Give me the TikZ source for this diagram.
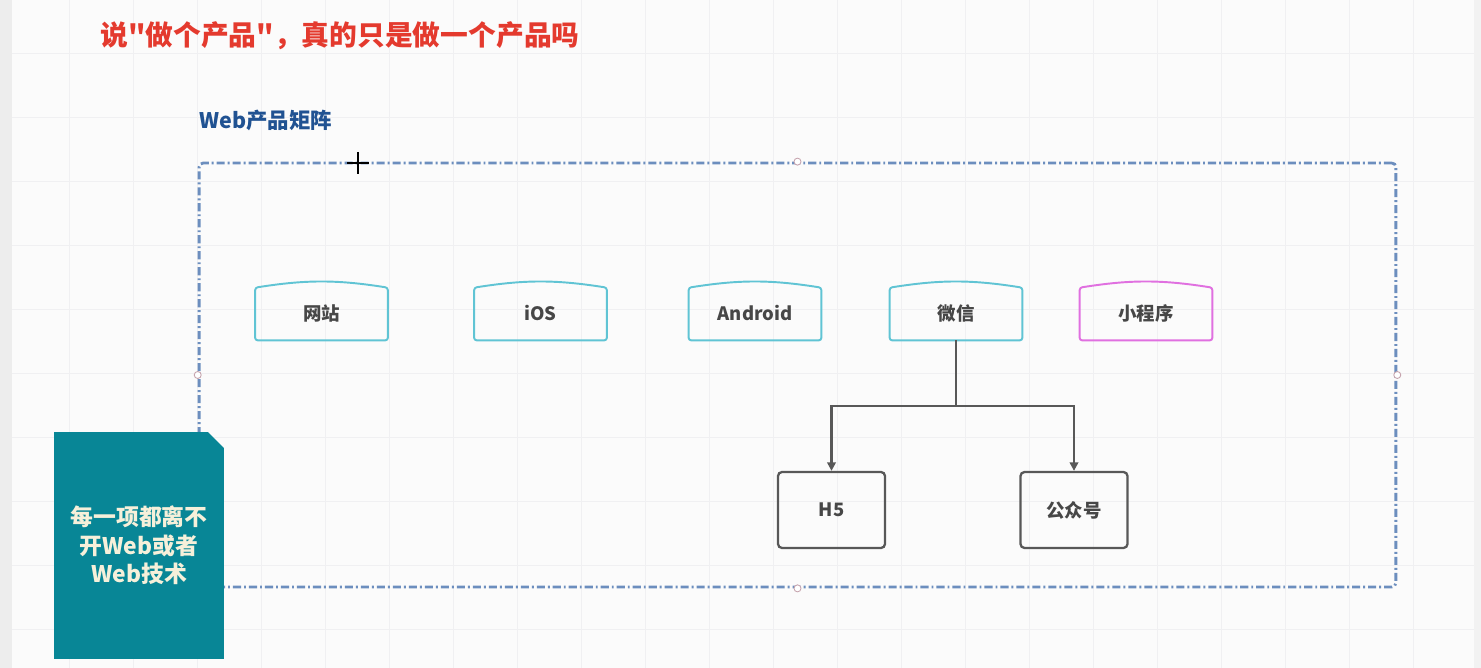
\documentclass[tikz,border=0pt]{standalone}
\usepackage{fontspec}
\newfontfamily\cjk{Noto Sans CJK SC}
\usetikzlibrary{positioning, arrows.meta, calc, shapes.misc}
\definecolor{bgcol}{RGB}{251,251,251}
\definecolor{gridcol}{RGB}{240,240,242}
\definecolor{titlecol}{RGB}{228,58,46}
\definecolor{headcol}{RGB}{32,82,146}
\definecolor{framecol}{RGB}{108,142,190}
\definecolor{platcol}{RGB}{96,196,212}
\definecolor{minicol}{RGB}{224,112,224}
\definecolor{subcol}{RGB}{88,88,88}
\definecolor{notecol}{RGB}{8,134,150}
\definecolor{notetext}{RGB}{246,240,218}
\definecolor{handlecol}{RGB}{198,164,174}
\tikzset{
  platform/.style={rectangle, minimum width=26.4mm, minimum height=10.4mm,
                   inner sep=0pt, font=\cjk\fontsize{10.5}{12}\selectfont\bfseries,
                   text=black!72},
  plat edge/.style={draw=platcol, line width=1.1pt, rounded corners=0.5mm},
  mini edge/.style={plat edge, draw=minicol},
  subbox/.style={rectangle, draw=subcol, line width=1.3pt, rounded corners=0.8mm,
                 minimum width=21.4mm, minimum height=15.2mm, inner sep=0pt,
                 font=\cjk\fontsize{10.5}{12}\selectfont\bfseries, text=black!72},
  link/.style={draw=subcol, line width=1.2pt},
  arr/.style={link, -{Triangle[length=1.7mm, width=1.7mm]}},
  frame box/.style={rectangle, draw=framecol, line width=1.6pt, rounded corners=0.8mm,
                    dash pattern=on 4.6pt off 1.7pt on 1.1pt off 1.7pt,
                    minimum width=239.4mm, minimum height=84.8mm, inner sep=0pt},
  handle/.style={circle, draw=handlecol, fill=white, line width=0.5pt,
                 minimum size=1.4mm, inner sep=0pt},
  note/.style={chamfered rectangle, chamfered rectangle corners=north east,
               chamfered rectangle xsep=1.6mm, chamfered rectangle ysep=1.6mm,
               fill=notecol, minimum width=34mm, minimum height=45.4mm,
               inner sep=0pt, align=center, text=notetext,
               font=\cjk\fontsize{13}{16.2}\selectfont\bfseries},
  title/.style={font=\cjk\fontsize{15.8}{18}\selectfont\bfseries, text=titlecol,
                inner sep=0pt, anchor=west},
  head/.style={font=\cjk\fontsize{12.2}{14}\selectfont\bfseries, text=headcol,
               inner sep=0pt, anchor=west},
}

\begin{document}
\begin{tikzpicture}[x=0.02cm, y=-0.02cm]
    % canvas
    \useasboundingbox (0,0) rectangle (1481,668);
    \fill[bgcol] (0,0) rectangle (1481,668);
    \fill[black!7] (0,0) rectangle (12,668);
    \fill[black!5] (1474,0) rectangle (1481,668);
    \foreach \gx in {69,133,...,1470} \draw[gridcol, line width=0.4pt] (\gx,0) -- (\gx,668);
    \foreach \gy in {53,117,...,668} \draw[gridcol, line width=0.4pt] (12,\gy) -- (1474,\gy);

    % titles
    \node[title] (title) at (100,36) {说"做个产品"，真的只是做一个产品吗};
    \node[head] (head) at (199,120) {Web产品矩阵};

    % frame
    \node[frame box] (frame) at (797.5,375) {};
    \node[handle] (h_n) at (frame.north) {};
    \node[handle] (h_s) at (frame.south) {};
    \node[handle] (h_w) at (frame.west) {};
    \node[handle] (h_e) at (frame.east) {};
    \draw[black, line width=1.1pt] (347,163) -- (369,163) (358,152) -- (358,174);

    % platforms
    \node[platform] (site) at (321.5,314) {\raisebox{1.5pt}{网站}};
    \node[platform] (ios) at (540.5,314) {\raisebox{1.5pt}{iOS}};
    \node[platform] (android) at (755,314) {\raisebox{1.5pt}{Android}};
    \node[platform] (wechat) at (956,314) {\raisebox{1.5pt}{微信}};
    \node[platform] (mini) at (1146,314) {\raisebox{1.5pt}{小程序}};
    \draw[plat edge] (site.south west) -- (site.north west) to[bend left=9] (site.north east) -- (site.south east) -- cycle;
    \draw[plat edge] (ios.south west) -- (ios.north west) to[bend left=9] (ios.north east) -- (ios.south east) -- cycle;
    \draw[plat edge] (android.south west) -- (android.north west) to[bend left=9] (android.north east) -- (android.south east) -- cycle;
    \draw[plat edge] (wechat.south west) -- (wechat.north west) to[bend left=9] (wechat.north east) -- (wechat.south east) -- cycle;
    \draw[mini edge] (mini.south west) -- (mini.north west) to[bend left=9] (mini.north east) -- (mini.south east) -- cycle;

    % wechat children
    \node[subbox] (h5) at (831.5,510) {H5};
    \node[subbox] (mp) at (1074,510) {公众号};
    \coordinate (split) at (956,406);
    \draw[link] (wechat.south) -- (split);
    \draw[arr] (split) -| (h5.north);
    \draw[arr] (split) -| (mp.north);

    % note
    \node[note] (remark) at (139,545.5) {\raisebox{-2.2pt}{\parbox{30mm}{\centering 每一项都离不\\开Web或者\\Web技术}}};
\end{tikzpicture}
\end{document}
